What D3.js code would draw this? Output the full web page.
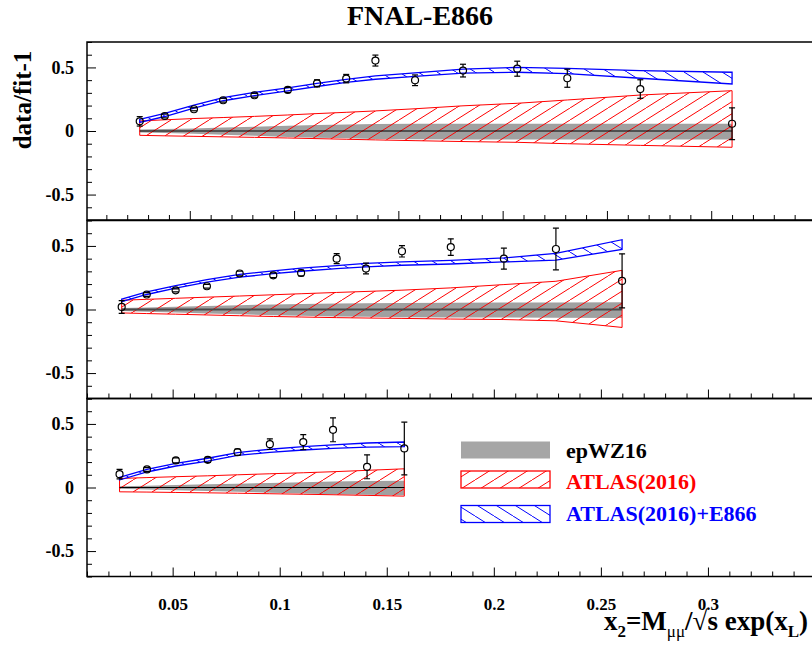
<!DOCTYPE html>
<html>
<head>
<meta charset="utf-8">
<script src="https://cdn.jsdelivr.net/npm/d3@7"></script>
<style>
  body { margin: 0; background: #fff; }
  svg { display: block; }
  text { font-family: "Liberation Serif", "Times New Roman", serif; font-weight: bold; }
</style>
</head>
<body>
<svg id="chart"></svg>
<script>
// ---- data ----
// panel 1 (top)
const x1 = [0.026, 0.038, 0.052, 0.066, 0.081, 0.097, 0.111, 0.125, 0.139, 0.158, 0.181, 0.207, 0.231, 0.266, 0.310];
const data1 = [0.076, 0.118, 0.171, 0.242, 0.281, 0.323, 0.375, 0.412, 0.554, 0.399, 0.475, 0.49, 0.415, 0.33, 0.057];
const err1 = [0.037, 0.015, 0.012, 0.015, 0.015, 0.02, 0.028, 0.033, 0.043, 0.042, 0.05, 0.059, 0.071, 0.073, 0.125];
const grayHi1 = [0.012, 0.015, 0.02, 0.027, 0.034, 0.042, 0.048, 0.052, 0.055, 0.057, 0.058, 0.058, 0.058, 0.058, 0.058];
const grayLo1 = [-0.012, -0.016, -0.022, -0.03, -0.038, -0.047, -0.053, -0.058, -0.062, -0.065, -0.066, -0.066, -0.066, -0.066, -0.066];
const redHi1 = [0.079, 0.088, 0.098, 0.106, 0.115, 0.126, 0.137, 0.147, 0.158, 0.175, 0.198, 0.218, 0.244, 0.283, 0.317];
const redLo1 = [-0.034, -0.038, -0.042, -0.046, -0.05, -0.055, -0.06, -0.065, -0.07, -0.076, -0.083, -0.089, -0.1, -0.113, -0.128];
const blueHi1 = [0.091, 0.138, 0.204, 0.262, 0.303, 0.34, 0.374, 0.406, 0.433, 0.457, 0.487, 0.5, 0.492, 0.475, 0.462];
const blueLo1 = [0.067, 0.114, 0.18, 0.238, 0.279, 0.316, 0.35, 0.382, 0.407, 0.429, 0.455, 0.462, 0.452, 0.415, 0.37];

// panel 2 (middle)
const x2 = [0.0262, 0.0379, 0.0514, 0.066, 0.0813, 0.097, 0.11, 0.1266, 0.1403, 0.1571, 0.1799, 0.2047, 0.229, 0.2599];
const data2 = [0.02, 0.118, 0.151, 0.183, 0.283, 0.269, 0.287, 0.40, 0.322, 0.458, 0.491, 0.40, 0.476, 0.225];
const err2 = [0.05, 0.015, 0.012, 0.015, 0.018, 0.018, 0.022, 0.039, 0.042, 0.045, 0.065, 0.082, 0.164, 0.213];
const grayHi2 = [0.012, 0.016, 0.022, 0.028, 0.034, 0.04, 0.044, 0.048, 0.05, 0.052, 0.054, 0.055, 0.056, 0.058];
const grayLo2 = [-0.012, -0.017, -0.024, -0.031, -0.038, -0.045, -0.05, -0.055, -0.058, -0.06, -0.062, -0.063, -0.064, -0.066];
const redHi2 = [0.073, 0.08, 0.088, 0.097, 0.106, 0.116, 0.124, 0.134, 0.142, 0.152, 0.17, 0.196, 0.222, 0.308];
const redLo2 = [-0.027, -0.032, -0.037, -0.043, -0.049, -0.055, -0.059, -0.064, -0.067, -0.07, -0.075, -0.079, -0.089, -0.141];
const blueHi2 = [0.082, 0.138, 0.188, 0.235, 0.276, 0.304, 0.325, 0.345, 0.362, 0.374, 0.386, 0.406, 0.441, 0.549];
const blueLo2 = [0.062, 0.118, 0.168, 0.215, 0.254, 0.282, 0.301, 0.321, 0.336, 0.348, 0.358, 0.374, 0.389, 0.473];

// panel 3 (bottom)
const x3 = [0.0252, 0.038, 0.0515, 0.0664, 0.0803, 0.0954, 0.111, 0.1249, 0.1408, 0.1582];
const data3 = [0.105, 0.142, 0.213, 0.218, 0.278, 0.341, 0.357, 0.454, 0.163, 0.307];
const err3 = [0.037, 0.015, 0.02, 0.02, 0.025, 0.042, 0.059, 0.094, 0.094, 0.207];
const grayHi3 = [0.01, 0.014, 0.019, 0.025, 0.03, 0.036, 0.042, 0.047, 0.051, 0.053];
const grayLo3 = [-0.01, -0.015, -0.021, -0.027, -0.034, -0.041, -0.048, -0.054, -0.058, -0.061];
const redHi3 = [0.071, 0.078, 0.085, 0.092, 0.1, 0.108, 0.116, 0.124, 0.135, 0.147];
const redLo3 = [-0.034, -0.036, -0.039, -0.042, -0.045, -0.049, -0.053, -0.057, -0.062, -0.068];
const blueHi3 = [0.079, 0.142, 0.189, 0.23, 0.274, 0.301, 0.321, 0.335, 0.35, 0.358];
const blueLo3 = [0.059, 0.122, 0.169, 0.208, 0.252, 0.277, 0.295, 0.307, 0.318, 0.322];

// axes
const xMajorTicks = [0.05, 0.1, 0.15, 0.2, 0.25, 0.3, 0.35];
const xTickLabels = ["0.05", "0.1", "0.15", "0.2", "0.25", "0.3", ""];
const xMinorTicks = d3.range(1, 35).filter(i => i % 5 !== 0).map(i => i / 100);
const yMajorTicks = [-0.5, 0, 0.5];
const yTickLabels = ["-0.5", "0", "0.5"];
const yMinorTicks = [-0.7, -0.6, -0.4, -0.3, -0.2, -0.1, 0.1, 0.2, 0.3, 0.4, 0.6, 0.7];

const legendNames = ["epWZ16", "ATLAS(2016)", "ATLAS(2016)+E866"];

// ---- layout ----
const W = 812, H = 649;
const frameL = 87, frameR = 815;
const panelH = 178;

const svg = d3.select("#chart").attr("width", W).attr("height", H);
const defs = svg.append("defs");

// ROOT-like hatch fill: "/" for red, "\" for blue
function hatch(id, color, rising) {
  const w = 19, h = 12;
  const p = defs.append("pattern")
    .attr("id", id)
    .attr("patternUnits", "userSpaceOnUse")
    .attr("width", w).attr("height", h);
  [0, 1, 2].forEach(n => {
    const seg = rising
      ? [(n - 1) * w, h, n * w, 0]
      : [(n - 1) * w, 0, n * w, h];
    p.append("line")
      .attr("x1", seg[0]).attr("y1", seg[1])
      .attr("x2", seg[2]).attr("y2", seg[3])
      .attr("stroke", color).attr("stroke-width", 1);
  });
}
hatch("hatchRed", "#ff0000", true);
hatch("hatchBlue", "#0000ff", false);

function rows(xs, lo, hi) {
  return xs.map((x, i) => ({ x: x, lo: lo[i], hi: hi[i] }));
}

const panels = [
  { top: 42, x: d3.scaleLinear().domain([0, 0.35]).range([85.5, 815.5]),
    xs: x1, vals: data1, errs: err1,
    gray: rows(x1, grayLo1, grayHi1), red: rows(x1, redLo1, redHi1), blue: rows(x1, blueLo1, blueHi1),
    zeroColor: "#000", zeroWidth: 1 },
  { top: 220.5, x: d3.scaleLinear().domain([0.01, 0.35]).range([frameL, frameR]),
    xs: x2, vals: data2, errs: err2,
    gray: rows(x2, grayLo2, grayHi2), red: rows(x2, redLo2, redHi2), blue: rows(x2, blueLo2, blueHi2),
    zeroColor: "#4a4a4a", zeroWidth: 2 },
  { top: 398.5, x: d3.scaleLinear().domain([0.01, 0.35]).range([frameL, frameR]),
    xs: x3, vals: data3, errs: err3,
    gray: rows(x3, grayLo3, grayHi3), red: rows(x3, redLo3, redHi3), blue: rows(x3, blueLo3, blueHi3),
    zeroColor: "#000", zeroWidth: 1 }
];

panels.forEach((p, pi) => {
  const x = p.x;
  const y = d3.scaleLinear().domain([-0.7, 0.7]).range([p.top + panelH, p.top]);
  const g = svg.append("g");

  const clipId = "clip" + pi;
  defs.append("clipPath").attr("id", clipId)
    .append("rect").attr("x", frameL).attr("y", p.top).attr("width", frameR - frameL).attr("height", panelH);
  const plot = g.append("g").attr("clip-path", `url(#${clipId})`);

  const area = d3.area().x(d => x(d.x)).y0(d => y(d.lo)).y1(d => y(d.hi));

  // epWZ16 band
  plot.append("path").attr("d", area(p.gray)).attr("fill", "#a0a0a0").attr("stroke", "none");

  // ATLAS(2016)
  plot.append("path").attr("d", area(p.red))
    .attr("fill", "url(#hatchRed)").attr("stroke", "#ff0000").attr("stroke-width", 1);

  // ratio = 0 line
  plot.append("line")
    .attr("x1", x(p.xs[0])).attr("x2", x(p.xs[p.xs.length - 1]))
    .attr("y1", y(0)).attr("y2", y(0))
    .attr("stroke", p.zeroColor).attr("stroke-width", p.zeroWidth);

  // ATLAS(2016)+E866
  plot.append("path").attr("d", area(p.blue))
    .attr("fill", "url(#hatchBlue)").attr("stroke", "#0000ff").attr("stroke-width", 1.3);

  // E866 points
  const r = 3.5;
  const pts = p.xs.map((xv, i) => ({ x: xv, v: p.vals[i], e: p.errs[i] }));
  const pg = plot.append("g").attr("stroke", "#000").attr("stroke-width", 1.2);
  pts.forEach(d => {
    const cx = x(d.x), cy = y(d.v), yt = y(d.v + d.e), yb = y(d.v - d.e);
    if (cy - r > yt) pg.append("line").attr("x1", cx).attr("x2", cx).attr("y1", yt).attr("y2", cy - r);
    if (cy + r < yb) pg.append("line").attr("x1", cx).attr("x2", cx).attr("y1", cy + r).attr("y2", yb);
    pg.append("line").attr("x1", cx - 3).attr("x2", cx + 3).attr("y1", yt).attr("y2", yt);
    pg.append("line").attr("x1", cx - 3).attr("x2", cx + 3).attr("y1", yb).attr("y2", yb);
    pg.append("circle").attr("cx", cx).attr("cy", cy).attr("r", r).attr("fill", "none");
  });

  // x axis (ticks pointing up)
  const isLast = pi === panels.length - 1;
  const xAxis = g.append("g").attr("transform", `translate(0,${p.top + panelH})`)
    .call(d3.axisBottom(x).tickValues(xMajorTicks).tickSize(-9).tickSizeOuter(0)
      .tickPadding(21)
      .tickFormat((d, i) => isLast ? xTickLabels[i] : ""));
  g.append("g").attr("transform", `translate(0,${p.top + panelH})`)
    .call(d3.axisBottom(x).tickValues(xMinorTicks).tickSize(-5).tickSizeOuter(0).tickFormat(""));

  // y axis (ticks pointing right)
  g.append("g").attr("transform", `translate(${frameL},0)`)
    .call(d3.axisLeft(y).tickValues(yMajorTicks).tickSize(-9).tickSizeOuter(0)
      .tickPadding(13).tickFormat((d, i) => yTickLabels[i]));
  g.append("g").attr("transform", `translate(${frameL},0)`)
    .call(d3.axisLeft(y).tickValues(yMinorTicks).tickSize(-5).tickSizeOuter(0).tickFormat(""));

  g.selectAll(".domain").remove();
  g.selectAll(".tick line").attr("stroke", "#000").attr("stroke-width", 1);
  g.selectAll(".tick text")
    .attr("fill", "#000")
    .style("font-family", "'Liberation Serif', serif")
    .style("font-weight", "bold")
    .style("font-size", "18px");
  xAxis.selectAll(".tick text").style("font-size", "17px");

  // frame
  g.append("rect")
    .attr("x", frameL).attr("y", p.top)
    .attr("width", frameR - frameL).attr("height", panelH)
    .attr("fill", "none").attr("stroke", "#000").attr("stroke-width", 1.5);
});

// title
svg.append("text")
  .attr("x", 420).attr("y", 25)
  .attr("text-anchor", "middle")
  .style("font-size", "28px")
  .text("FNAL-E866");

// y label
svg.append("text")
  .attr("transform", "translate(31,100) rotate(-90)")
  .attr("text-anchor", "middle")
  .style("font-size", "25px")
  .text("data/fit-1");

// x label
const xl = svg.append("text")
  .attr("x", 808).attr("y", 630)
  .attr("text-anchor", "end")
  .style("font-size", "27px");
xl.append("tspan").text("x");
xl.append("tspan").attr("dy", 7).style("font-size", "17px").text("2");
xl.append("tspan").attr("dy", -7).text("=M");
xl.append("tspan").attr("dy", 7).style("font-size", "17px").style("font-weight", "normal").text("μμ");
xl.append("tspan").attr("dy", -7).text("/√s exp(x");
xl.append("tspan").attr("dy", 7).style("font-size", "17px").text("L");
xl.append("tspan").attr("dy", -7).text(")");

// legend
const legend = svg.append("g");
const legendRows = [
  { fill: "#a6a6a6", stroke: "none", color: "#000", top: 441.5, base: 458 },
  { fill: "url(#hatchRed)", stroke: "#ff0000", color: "#ff0000", top: 471, base: 489 },
  { fill: "url(#hatchBlue)", stroke: "#0000ff", color: "#0000ff", top: 505.5, base: 521 }
];
legendRows.forEach((row, i) => {
  legend.append("rect")
    .attr("x", 461).attr("y", row.top).attr("width", 89).attr("height", 17)
    .attr("fill", row.fill).attr("stroke", row.stroke).attr("stroke-width", 1.3);
  legend.append("text")
    .attr("x", 566).attr("y", row.base)
    .attr("fill", row.color)
    .style("font-size", "22px")
    .text(legendNames[i]);
});
</script>
</body>
</html>
